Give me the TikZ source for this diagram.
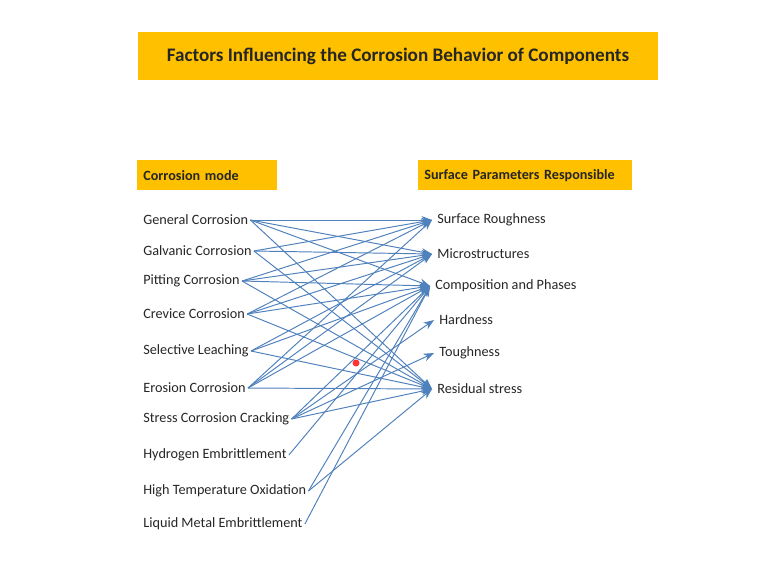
\documentclass[tikz,border=0pt]{standalone}
\usepackage{fontspec}
\setmainfont{Carlito}
\usetikzlibrary{arrows.meta}
\definecolor{banner}{HTML}{FFC000}
\definecolor{link}{HTML}{4F81BD}
\definecolor{ink}{HTML}{262626}

\tikzset{
	title/.style={fill=banner, text=ink, font=\fontsize{10.9}{12}\selectfont\bfseries, minimum width=10.4cm, minimum height=0.96cm},
	head/.style={fill=banner, text=ink, font=\fontsize{8.05}{9}\selectfont\bfseries, anchor=north west, inner xsep=0.12cm, minimum height=0.6cm, align=left},
	mode/.style={text=ink, font=\fontsize{8.1}{10}\selectfont, anchor=west, inner xsep=0.04cm, inner ysep=1pt},
	param/.style={text=ink, font=\fontsize{8.1}{10}\selectfont, anchor=west, inner xsep=0.1cm, inner ysep=1pt},
	conn/.style={draw=link, line width=0.55pt, -{Stealth[length=6pt, width=4.5pt]}}
}

\begin{document}
\begin{tikzpicture}[x=0.02cm, y=-0.02cm]
	\useasboundingbox (0,0) rectangle (767,576);
	\fill[white] (0,0) rectangle (767,576);

	\node[title] (ttl) at (398,56) {Factors Influencing the Corrosion Behavior of Components};
	\node[head, text width=2.56cm] (modes) at (137,160) {Corrosion mode};
	\node[head, text width=4.04cm] (params) at (418,160) {Surface Parameters Responsible};

	\node[mode] (gen) at (141,220) {General Corrosion};
	\node[mode] (galv) at (141,251) {Galvanic Corrosion};
	\node[mode] (pit) at (141,281) {Pitting Corrosion};
	\node[mode] (crev) at (141,314) {Crevice Corrosion};
	\node[mode] (sel) at (141,351) {Selective Leaching};
	\node[mode] (ero) at (141,388) {Erosion Corrosion};
	\node[mode] (scc) at (141,419) {Stress Corrosion Cracking};
	\node[mode] (hyd) at (141,455) {Hydrogen Embrittlement};
	\node[mode] (hto) at (141,491) {High Temperature Oxidation};
	\node[mode] (lme) at (141,524) {Liquid Metal Embrittlement};

	\node[param] (rough) at (432,220) {Surface Roughness};
	\node[param] (micro) at (432,254) {Microstructures};
	\node[param] (comp) at (430,286) {Composition and Phases};
	\node[param] (hard) at (434,320) {Hardness};
	\node[param] (tough) at (434,353) {Toughness};
	\node[param] (resid) at (432,389) {Residual stress};

	\draw[conn] (gen.east) -- (rough.west);
	\draw[conn] (gen.east) -- (micro.west);
	\draw[conn] (gen.east) -- (comp.west);
	\draw[conn] (gen.east) -- (resid.west);
	\draw[conn] (galv.east) -- (rough.west);
	\draw[conn] (galv.east) -- (micro.west);
	\draw[conn] (galv.east) -- (resid.west);
	\draw[conn] (pit.east) -- (rough.west);
	\draw[conn] (pit.east) -- (micro.west);
	\draw[conn] (pit.east) -- (comp.west);
	\draw[conn] (pit.east) -- (resid.west);
	\draw[conn] (crev.east) -- (rough.west);
	\draw[conn] (crev.east) -- (micro.west);
	\draw[conn] (crev.east) -- (comp.west);
	\draw[conn] (crev.east) -- (resid.west);
	\draw[conn] (sel.east) -- (micro.west);
	\draw[conn] (sel.east) -- (comp.west);
	\draw[conn] (sel.east) -- (resid.west);
	\draw[conn] (ero.east) -- (rough.west);
	\draw[conn] (ero.east) -- (micro.west);
	\draw[conn] (ero.east) -- (comp.west);
	\draw[conn] (ero.east) -- (resid.west);
	\draw[conn] (scc.east) -- (comp.west);
	\draw[conn] (scc.east) -- (hard.west);
	\draw[conn] (scc.east) -- (tough.west);
	\draw[conn] (scc.east) -- (resid.west);
	\draw[conn] (hyd.east) -- (comp.west);
	\draw[conn] (hto.east) -- (comp.west);
	\draw[conn] (hto.east) -- (resid.west);
	\draw[conn] (lme.east) -- (comp.west);

	\fill[red!80!white] (356,363) circle (3.5);
\end{tikzpicture}
\end{document}
